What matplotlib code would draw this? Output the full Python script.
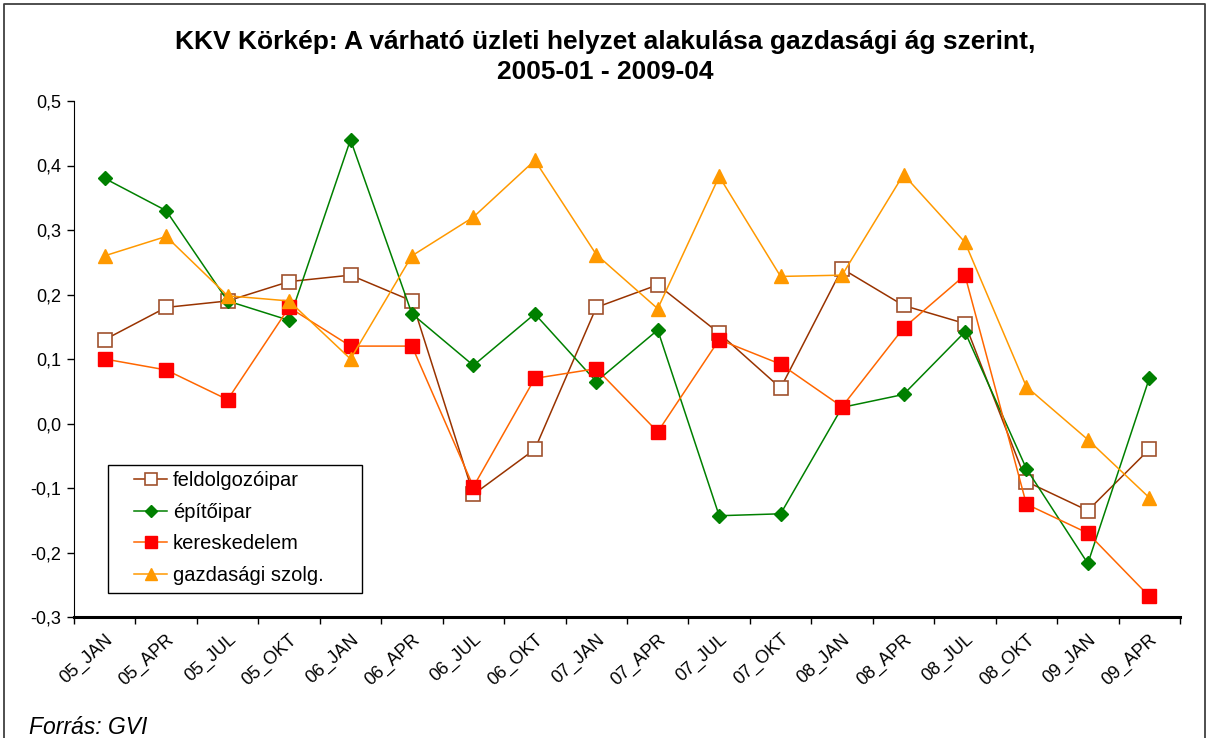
import matplotlib
matplotlib.use("Agg")
import matplotlib.pyplot as plt
from matplotlib.patches import Rectangle
from matplotlib.lines import Line2D
from matplotlib.ticker import FuncFormatter, FixedLocator

plt.rcParams['font.family'] = ['Liberation Sans', 'DejaVu Sans']

# Data
periods = ["05_JAN", "05_APR", "05_JUL", "05_OKT", "06_JAN", "06_APR", "06_JUL", "06_OKT",
           "07_JAN", "07_APR", "07_JUL", "07_OKT", "08_JAN", "08_APR", "08_JUL", "08_OKT",
           "09_JAN", "09_APR"]
feldolgozoipar = [0.13, 0.18, 0.19, 0.22, 0.23, 0.19, -0.11, -0.04, 0.18, 0.215, 0.14, 0.055,
                  0.24, 0.183, 0.155, -0.09, -0.135, -0.04]
epitoipar = [0.38, 0.33, 0.19, 0.16, 0.44, 0.17, 0.09, 0.17, 0.065, 0.145, -0.143, -0.14,
             0.025, 0.045, 0.142, -0.07, -0.217, 0.07]
kereskedelem = [0.10, 0.083, 0.037, 0.18, 0.12, 0.12, -0.098, 0.07, 0.085, -0.013, 0.13, 0.092,
                0.026, 0.148, 0.23, -0.125, -0.17, -0.268]
gazdasagi = [0.26, 0.29, 0.198, 0.19, 0.10, 0.26, 0.32, 0.408, 0.262, 0.178, 0.383, 0.228,
             0.23, 0.386, 0.281, 0.057, -0.025, -0.115]

W, H = 1210, 738
fig = plt.figure(figsize=(W / 100, H / 100), dpi=100)
ax = fig.add_axes([74 / W, 1 - 617 / H, 1106 / W, 516 / H])

x = list(range(len(periods)))
ax.plot(x, feldolgozoipar, color='#993300', lw=1.1, marker='s', markersize=9.5,
        markerfacecolor='white', markeredgecolor='#A0522D', markeredgewidth=1.2,
        label='feldolgozóipar')
ax.plot(x, epitoipar, color='#008000', lw=1.1, marker='D', markersize=7.5,
        markerfacecolor='#008000', markeredgecolor='#008000', label='építőipar')
ax.plot(x, kereskedelem, color='#FF6600', lw=1.1, marker='s', markersize=9.5,
        markerfacecolor='#FF0000', markeredgecolor='#FF0000', label='kereskedelem')
ax.plot(x, gazdasagi, color='#FF9900', lw=1.1, marker='^', markersize=10,
        markerfacecolor='#FF9900', markeredgecolor='#FF9900', label='gazdasági szolg.')

ax.set_xlim(-0.5, len(periods) - 0.5)
ax.set_ylim(-0.3, 0.5)
ax.set_yticks([-0.3, -0.2, -0.1, 0.0, 0.1, 0.2, 0.3, 0.4, 0.5])
ax.yaxis.set_major_formatter(FuncFormatter(lambda v, p: f"{v:.1f}".replace('.', ',').replace('-0,0', '0,0')))
ax.tick_params(axis='y', labelsize=13, length=5, width=1, color='black', direction='out', pad=4)

ax.set_xticks(x)
ax.set_xticklabels(periods, rotation=42, ha='right', va='top', rotation_mode='anchor',
                   fontsize=13)
ax.tick_params(axis='x', which='major', length=0, pad=10)
ax.xaxis.set_minor_locator(FixedLocator([i - 0.5 for i in range(len(periods) + 1)]))
ax.tick_params(axis='x', which='minor', length=5, width=1, color='black', direction='out')

ax.spines['top'].set_visible(False)
ax.spines['right'].set_visible(False)
ax.spines['left'].set_color('black')
ax.spines['bottom'].set_linewidth(2.2)
ax.spines['bottom'].set_color('black')

# legend box with Excel-like padding
lx0, ly0, lx1, ly1 = 108, 465, 362, 593
ax.add_patch(Rectangle(((lx0 - 74) / 1106, (617 - ly1) / 516), (lx1 - lx0) / 1106,
                       (ly1 - ly0) / 516, transform=ax.transAxes, fill=False,
                       edgecolor='black', lw=1.0, zorder=5))
ax.add_patch(Rectangle(((lx0 - 74) / 1106, (617 - ly1) / 516), (lx1 - lx0) / 1106,
                       (ly1 - ly0) / 516, transform=ax.transAxes, facecolor='white',
                       edgecolor='none', zorder=4))
leg = ax.legend(loc='center', bbox_to_anchor=(((lx0 + lx1) / 2 - 74 - 6) / 1106,
                                              (617 - (ly0 + ly1) / 2 + 1) / 516),
                fontsize=14.5, frameon=False, borderpad=0.3, labelspacing=0.64,
                handlelength=1.6, handletextpad=0.3, markerscale=0.85)
leg.set_zorder(6)

fig.text(0.5, 1 - 57 / H, "KKV Körkép: A várható üzleti helyzet alakulása gazdasági ág szerint,\n2005-01 - 2009-04",
         ha='center', va='center', fontsize=19, fontweight='bold', linespacing=1.3)
fig.text(29 / W, 1 - 727 / H, "Forrás: GVI", fontsize=16.5, style='italic', va='center')

# outer chart border
bx0, by0, bx1 = 4 / W, 4 / H, 1 - 5 / W
fig.add_artist(Line2D([bx0, bx0, bx1, bx1], [-0.01, 1 - by0, 1 - by0, -0.01],
                      transform=fig.transFigure, color='#404040', lw=1.3))

fig.savefig("out.png", dpi=100)
